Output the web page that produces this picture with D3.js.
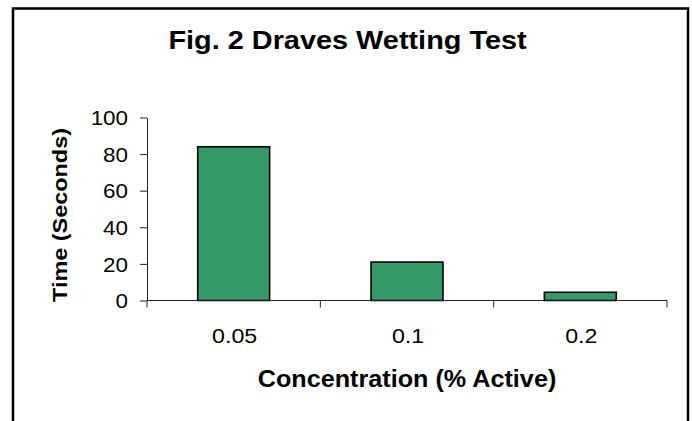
<!DOCTYPE html>
<html>
<head>
<meta charset="utf-8">
<script src="https://cdn.jsdelivr.net/npm/d3@7"></script>
<style>
  body { margin: 0; background: #fff; }
  text { font-family: "Liberation Sans", Arial, sans-serif; fill: #000; }
</style>
</head>
<body>
<div id="chart"></div>
<script>
// chart data
var concentrations = ["0.05", "0.1", "0.2"];
var times = [84, 21, 4.5];
var yTicks = [0, 20, 40, 60, 80, 100];

var width = 692, height = 421;
var plotLeft = 147, plotRight = 667, plotTop = 117.5, plotBottom = 300.5;

var svg = d3.select("#chart").append("svg")
    .attr("width", width)
    .attr("height", height);

svg.append("rect")
    .attr("width", width).attr("height", height)
    .attr("fill", "#fff");

// outer frame (bottom runs off the picture)
svg.append("rect")
    .attr("x", 13).attr("y", 8.5)
    .attr("width", 675).attr("height", 440)
    .attr("fill", "none")
    .attr("stroke", "#000")
    .attr("stroke-width", 2.5);

var x = d3.scaleBand()
    .domain(concentrations)
    .range([plotLeft, plotRight])
    .paddingInner(0.585)
    .paddingOuter(0.2925);

var y = d3.scaleLinear()
    .domain([0, 100])
    .range([plotBottom, plotTop]);

// bars
svg.selectAll("rect.bar")
    .data(concentrations)
    .enter()
    .append("rect")
    .attr("class", "bar")
    .attr("x", function(d) { return x(d); })
    .attr("width", x.bandwidth())
    .attr("y", function(d, i) { return y(times[i]); })
    .attr("height", function(d, i) { return y(0) - y(times[i]); })
    .attr("fill", "#339966")
    .attr("stroke", "#000")
    .attr("stroke-width", 1.6);

// y axis
var yAxis = svg.append("g")
    .attr("transform", "translate(" + plotLeft + ",0)")
    .call(d3.axisLeft(y).tickValues(yTicks).tickSize(7).tickSizeOuter(0));
yAxis.select(".domain").attr("stroke", "#222");
yAxis.selectAll(".tick line").attr("stroke", "#222");
yAxis.selectAll(".tick text").remove();
yAxis.selectAll(".tick")
    .append("text")
    .attr("transform", "translate(-19,0) scale(1.12,1)")
    .attr("dy", "0.36em")
    .attr("text-anchor", "end")
    .style("font-size", "20px")
    .text(function(d) { return d; });

// x axis: ticks sit between the categories
var xb = d3.scaleLinear().domain([0, concentrations.length]).range([plotLeft, plotRight]);
var xAxis = svg.append("g")
    .attr("transform", "translate(0," + plotBottom + ")");
xAxis.append("line")
    .attr("x1", plotLeft).attr("x2", plotRight)
    .attr("stroke", "#222");
xAxis.selectAll("line.tk")
    .data(d3.range(concentrations.length + 1))
    .enter()
    .append("line")
    .attr("class", "tk")
    .attr("x1", function(d) { return xb(d); })
    .attr("x2", function(d) { return xb(d); })
    .attr("y1", 0).attr("y2", 7)
    .attr("stroke", "#222");
xAxis.selectAll("text")
    .data(concentrations)
    .enter()
    .append("text")
    .attr("transform", function(d) { return "translate(" + (x(d) + x.bandwidth() / 2 + 1) + ",42) scale(1.16,1)"; })
    .attr("text-anchor", "middle")
    .style("font-size", "20px")
    .text(function(d) { return d; });

// titles
svg.append("text")
    .attr("transform", "translate(347.5,49) scale(1.155,1)")
    .attr("text-anchor", "middle")
    .style("font-size", "25px")
    .style("font-weight", "bold")
    .text("Fig. 2 Draves Wetting Test");

svg.append("text")
    .attr("transform", "translate(407,387) scale(1.05,1)")
    .attr("text-anchor", "middle")
    .style("font-size", "24px")
    .style("font-weight", "bold")
    .text("Concentration (% Active)");

svg.append("text")
    .attr("transform", "translate(67,215) rotate(-90)")
    .attr("text-anchor", "middle")
    .style("font-size", "21px")
    .style("font-weight", "bold")
    .attr("textLength", 174)
    .attr("lengthAdjust", "spacingAndGlyphs")
    .text("Time (Seconds)");
</script>
</body>
</html>
